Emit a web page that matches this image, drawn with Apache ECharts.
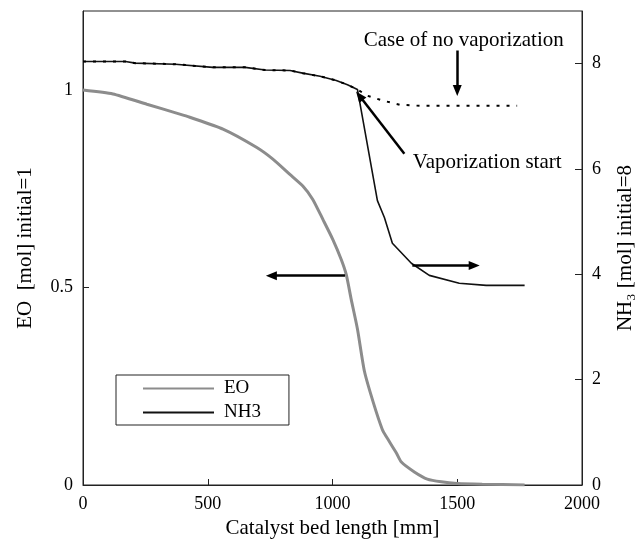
<!DOCTYPE html>
<html>
<head>
<meta charset="utf-8">
<script src="https://cdn.jsdelivr.net/npm/echarts@6/dist/echarts.min.js"></script>
<style>
  html, body { margin: 0; padding: 0; background: #fff; }
  #chart { width: 635px; height: 545px; }
</style>
</head>
<body>
<div id="chart"></div>
<script>
// Catalyst bed length [mm] and EO amount (relative, initial = 1)
const eoLength = [0, 120, 256, 388, 428, 561, 695, 761, 828, 881, 921, 961, 1001, 1035, 1055, 1075, 1100, 1128, 1164, 1200, 1216, 1256, 1276, 1328, 1380, 1436, 1500, 1600, 1770];
const eoAmount = [1.0, 0.99, 0.964, 0.939, 0.931, 0.901, 0.855, 0.825, 0.787, 0.757, 0.723, 0.673, 0.622, 0.571, 0.533, 0.47, 0.395, 0.288, 0.208, 0.14, 0.122, 0.081, 0.058, 0.033, 0.015, 0.008, 0.004, 0.002, 0.0];

// NH3 amount [mol] (initial = 8) with vaporization
const nh3Length = [0, 170, 210, 370, 520, 650, 730, 830, 880, 950, 1015, 1060, 1100, 1180, 1208, 1240, 1316, 1388, 1508, 1616, 1770];
const nh3Amount = [8.04, 8.04, 8.01, 7.99, 7.93, 7.93, 7.88, 7.87, 7.82, 7.76, 7.68, 7.6, 7.51, 5.40, 5.08, 4.59, 4.21, 3.98, 3.83, 3.79, 3.79];

// NH3 amount [mol] for the case without vaporization
const noVapLength = [0, 170, 210, 370, 520, 650, 730, 830, 880, 950, 1015, 1060, 1100, 1140, 1200, 1270, 1350, 1740];
const noVapAmount = [8.04, 8.04, 8.01, 7.99, 7.93, 7.93, 7.88, 7.87, 7.82, 7.76, 7.68, 7.6, 7.51, 7.39, 7.30, 7.22, 7.20, 7.20];

// Axis ticks
const xTicks = [0, 500, 1000, 1500, 2000];
const leftTicks = [0, 0.5, 1];
const rightTicks = [0, 2, 4, 6, 8];

const pair = (xs, ys) => xs.map((x, i) => [x, ys[i]]);
const FONT = '"Liberation Serif", "Times New Roman", serif';

const chart = echarts.init(document.getElementById('chart'), null, { renderer: 'canvas' });

const arrowLine = { color: '#000', width: 2.5, type: 'solid' };

chart.setOption({
  animation: false,
  backgroundColor: '#fff',
  textStyle: { fontFamily: FONT, color: '#000' },
  grid: {
    left: 83, right: 53, top: 11, bottom: 60,
    outerBoundsMode: 'none', containLabel: false,
    show: true, borderColor: '#222', borderWidth: 1
  },
  legend: {
    data: ['EO', 'NH3'],
    orient: 'vertical',
    left: 116, top: 375,
    itemWidth: 71, itemHeight: 12, itemGap: 5,
    padding: [4, 28, 3, 26],
    borderColor: '#222', borderWidth: 1,
    itemStyle: { opacity: 0 },
    textStyle: { fontFamily: FONT, fontSize: 19, color: '#000', padding: [0, 0, 0, 5] }
  },
  xAxis: {
    type: 'value', min: 0, max: 2000, interval: 500,
    name: 'Catalyst bed length [mm]', nameLocation: 'middle', nameGap: 33,
    nameTextStyle: { fontFamily: FONT, fontSize: 21, color: '#000' },
    axisLine: { lineStyle: { color: '#222', width: 1 } },
    axisTick: { inside: true, length: 6, lineStyle: { color: '#222' } },
    axisLabel: {
      fontFamily: FONT, fontSize: 18, color: '#000', margin: 10,
      formatter: v => (xTicks.includes(v) ? String(v) : '')
    },
    splitLine: { show: false }
  },
  yAxis: [
    {
      type: 'value', min: 0, max: 1.2, interval: 0.5, position: 'left',
      name: 'EO  [mol] initial=1', nameLocation: 'middle', nameGap: 47, nameRotate: 90,
      nameTextStyle: { fontFamily: FONT, fontSize: 21, color: '#000' },
      axisLine: { show: true, lineStyle: { color: '#222', width: 1 } },
      axisTick: { show: true, inside: true, length: 6, lineStyle: { color: '#222' } },
      axisLabel: {
        fontFamily: FONT, fontSize: 18, color: '#000', margin: 10, showMaxLabel: false,
        formatter: v => (leftTicks.includes(v) ? String(v) : '')
      },
      splitLine: { show: false }
    },
    {
      type: 'value', min: 0, max: 9, interval: 2, position: 'right',
      name: 'NH\u2083 [mol] initial=8', nameLocation: 'middle', nameGap: 33, nameRotate: 90,
      nameTextStyle: { fontFamily: FONT, fontSize: 21, color: '#000' },
      axisLine: { show: true, lineStyle: { color: '#222', width: 1 } },
      axisTick: { show: true, inside: true, length: 7, lineStyle: { color: '#222' } },
      axisLabel: {
        fontFamily: FONT, fontSize: 18, color: '#000', margin: 10, showMaxLabel: false,
        formatter: v => (rightTicks.includes(v) ? String(v) : '')
      },
      splitLine: { show: false }
    }
  ],
  series: [
    {
      name: 'EO', type: 'line', yAxisIndex: 0,
      data: pair(eoLength, eoAmount),
      symbol: 'none', smooth: 0.2,
      lineStyle: { color: '#8c8c8c', width: 3 },
      itemStyle: { color: '#8c8c8c' },
      markLine: {
        silent: true, symbol: ['none', 'triangle'], symbolSize: [9, 11],
        label: { show: false },
        lineStyle: arrowLine,
        data: [[{ coord: [1050, 0.53] }, { coord: [755, 0.53] }]]
      }
    },
    {
      name: 'NH3', type: 'line', yAxisIndex: 1,
      data: pair(nh3Length, nh3Amount),
      symbol: 'none',
      lineStyle: { color: '#111', width: 1.6 },
      itemStyle: { color: '#333' },
      markLine: {
        silent: true, symbol: ['none', 'triangle'], symbolSize: [9, 11],
        label: { show: false },
        lineStyle: arrowLine,
        data: [
          [{ coord: [1500, 8.25] }, { coord: [1500, 7.49] }],
          [{ coord: [1288, 6.29] }, { coord: [1108, 7.39] }],
          [{ coord: [1320, 4.17] }, { coord: [1568, 4.17] }]
        ]
      },
      markPoint: {
        silent: true, symbol: 'circle', symbolSize: 0,
        label: {
          show: true, position: 'inside', fontFamily: FONT, fontSize: 21, color: '#000',
          formatter: p => p.name
        },
        data: [
          { name: 'Case of no vaporization', coord: [1526, 8.44] },
          { name: 'Vaporization start', coord: [1620, 6.12] }
        ]
      }
    },
    {
      name: 'No vaporization', type: 'line', yAxisIndex: 1,
      data: pair(noVapLength, noVapAmount),
      symbol: 'none', z: 3,
      lineStyle: { color: '#000', width: 2, type: [3, 7] }
    }
  ]
});
</script>
</body>
</html>
